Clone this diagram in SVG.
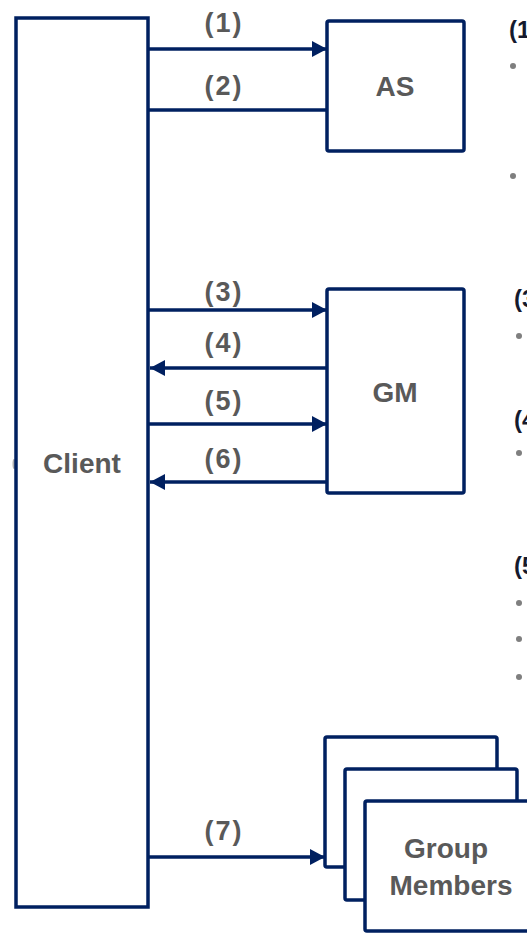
<svg xmlns="http://www.w3.org/2000/svg" width="527" height="934" viewBox="0 0 527 934">
  <style>
    .box { fill: #ffffff; stroke: #002060; stroke-width: 3.5; }
    .conn { stroke: #002060; stroke-width: 3.5; fill: none; }
    .name { font-family: "Liberation Sans", Arial, sans-serif; font-weight: bold; font-size: 28px; fill: #595959; text-anchor: middle; }
    .lbl { font-family: "Liberation Sans", Arial, sans-serif; font-weight: bold; font-size: 27px; fill: #595959; text-anchor: middle; letter-spacing: 2px; }
    .side { font-family: "Liberation Sans", Arial, sans-serif; font-weight: bold; font-size: 24px; fill: #141a2e; }
    .dot { fill: #7f7f7f; }
  </style>
  <defs>
    <marker id="head" markerUnits="userSpaceOnUse" markerWidth="17" markerHeight="17" refX="15" refY="8" orient="auto">
      <path d="M0,0 L15,8 L0,16 z" fill="#002060"/>
    </marker>
  </defs>

  <!-- faint mark left of the client box -->
  <ellipse cx="14" cy="464" rx="1.5" ry="5" fill="#b0b0b0"/>

  <g id="client">
    <rect class="box" x="16" y="18" width="132" height="889"/>
    <text class="name" x="82" y="473">Client</text>
  </g>

  <g id="as">
    <rect class="box" x="327" y="21" width="137" height="130" rx="2"/>
    <text class="name" x="395" y="96">AS</text>
  </g>

  <g id="gm">
    <rect class="box" x="327" y="289" width="137" height="204" rx="2"/>
    <text class="name" x="395" y="402">GM</text>
  </g>

  <g id="group-members">
    <rect class="box" x="325" y="737" width="172" height="130" rx="2"/>
    <rect class="box" x="345" y="769" width="172" height="131" rx="2"/>
    <rect class="box" x="365" y="801" width="172" height="130" rx="2"/>
    <text class="name" x="446" y="858">Group</text>
    <text class="name" x="451" y="895">Members</text>
  </g>

  <g id="connectors">
    <line class="conn" x1="148" y1="49" x2="327" y2="49" marker-end="url(#head)"/>
    <line class="conn" x1="148" y1="110" x2="327" y2="110"/>
    <line class="conn" x1="148" y1="310" x2="327" y2="310" marker-end="url(#head)"/>
    <line class="conn" x1="327" y1="368" x2="150" y2="368" marker-end="url(#head)"/>
    <line class="conn" x1="148" y1="424" x2="327" y2="424" marker-end="url(#head)"/>
    <line class="conn" x1="327" y1="482" x2="150" y2="482" marker-end="url(#head)"/>
    <line class="conn" x1="148" y1="857" x2="325" y2="857" marker-end="url(#head)"/>
    <text class="lbl" x="224" y="32">(1)</text>
    <text class="lbl" x="224" y="95">(2)</text>
    <text class="lbl" x="224" y="301">(3)</text>
    <text class="lbl" x="224" y="352">(4)</text>
    <text class="lbl" x="224" y="410">(5)</text>
    <text class="lbl" x="224" y="468">(6)</text>
    <text class="lbl" x="224" y="840">(7)</text>
  </g>

  <g id="notes">
    <text class="side" x="509" y="38">(1</text>
    <circle class="dot" cx="513" cy="66" r="3"/>
    <circle class="dot" cx="513" cy="176" r="3"/>
    <text class="side" x="514" y="307">(3</text>
    <circle class="dot" cx="519" cy="336" r="3"/>
    <text class="side" x="514" y="428">(4</text>
    <circle class="dot" cx="519" cy="453" r="3"/>
    <text class="side" x="514" y="574">(5</text>
    <circle class="dot" cx="519" cy="603" r="3"/>
    <circle class="dot" cx="519" cy="639" r="3"/>
    <circle class="dot" cx="519" cy="677" r="3"/>
  </g>
</svg>
